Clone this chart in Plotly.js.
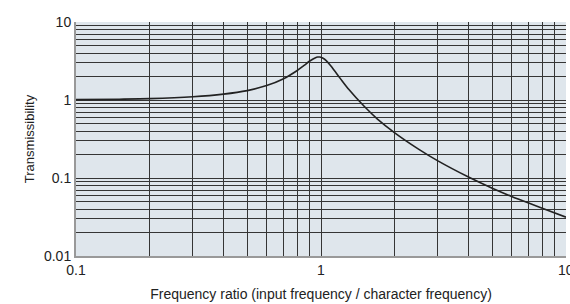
<!DOCTYPE html>
<html>
<head>
<meta charset="utf-8">
<script src="https://cdn.plot.ly/plotly-3.0.1.min.js"></script>
<style>html,body{margin:0;padding:0;background:#fff;}#chart{width:570px;height:304px;}</style>
</head>
<body>
<div id="chart"></div>
<script>
// Frequency ratio (x) and transmissibility (y)
const frequencyRatio = [0.1, 0.15, 0.2, 0.3, 0.4, 0.5, 0.6, 0.7, 0.8, 0.85, 0.9, 0.95, 0.97, 0.99, 1.02, 1.05, 1.1, 1.2, 1.3, 1.5, 1.7, 2.0, 2.5, 3.0, 4.0, 5.0, 6.0, 7.0, 8.0, 10.0];
const transmissibility = [1.01, 1.023, 1.04, 1.10, 1.19, 1.32, 1.53, 1.86, 2.39, 2.75, 3.16, 3.49, 3.55, 3.55, 3.43, 3.2, 2.71, 1.88, 1.36, 0.83, 0.57, 0.38, 0.235, 0.166, 0.103, 0.074, 0.058, 0.048, 0.041, 0.0315];

const xGridVals = [0.1,0.2,0.3,0.4,0.5,0.6,0.7,0.8,0.9,1,2,3,4,5,6,7,8,9,10];
const xTickLabels = ['0.1','','','','','','','','','1','','','','','','','','',''];
const xEndLabel = '10';
const yGridVals = [0.01,0.02,0.03,0.04,0.05,0.06,0.07,0.08,0.09,0.1,0.2,0.3,0.4,0.5,0.6,0.7,0.8,0.9,1,2,3,4,5,6,7,8,9,10];
const yTickLabels = ['0.01','','','','','','','','','0.1','','','','','','','','','1','','','','','','','','','10'];

const font = 'Liberation Sans Narrow, Arial Narrow, Liberation Sans, sans-serif';

Plotly.newPlot('chart', [{
  x: frequencyRatio,
  y: transmissibility,
  type: 'scatter',
  mode: 'lines',
  line: {color: '#222', width: 1.6, shape: 'spline', smoothing: 0.8},
  hoverinfo: 'skip'
}], {
  width: 570, height: 304,
  margin: {l: 76, r: 4, t: 22, b: 48},
  paper_bgcolor: '#ffffff',
  plot_bgcolor: '#dfe6ec',
  showlegend: false,
  font: {family: font, size: 14, color: '#222'},
  annotations: [{
    x: 1, xref: 'x', y: 0, yref: 'paper', yanchor: 'top', xanchor: 'center',
    yshift: -4, text: xEndLabel, showarrow: false,
    font: {family: font, size: 14, color: '#222'}
  }],
  xaxis: {
    type: 'log', range: [-1, 1],
    tickmode: 'array', tickvals: xGridVals, ticktext: xTickLabels,
    showgrid: true, gridcolor: '#353535', gridwidth: 1,
    ticks: '', zeroline: false,
    showline: true, linecolor: '#999', linewidth: 2,
    tickfont: {family: font, size: 14, color: '#222'},
    title: {text: 'Frequency ratio (input frequency / character frequency)', font: {family: font, size: 14, color: '#222'}, standoff: 12}
  },
  yaxis: {
    type: 'log', range: [-2, 1],
    tickmode: 'array', tickvals: yGridVals, ticktext: yTickLabels,
    showgrid: true, gridcolor: '#353535', gridwidth: 1,
    ticks: '', zeroline: false,
    showline: true, linecolor: '#999', linewidth: 2,
    tickfont: {family: font, size: 14, color: '#222'},
    title: {text: 'Transmissibility', font: {family: font, size: 13, color: '#222'}, standoff: 6}
  }
}, {staticPlot: true, displayModeBar: false});
</script>
</body>
</html>
